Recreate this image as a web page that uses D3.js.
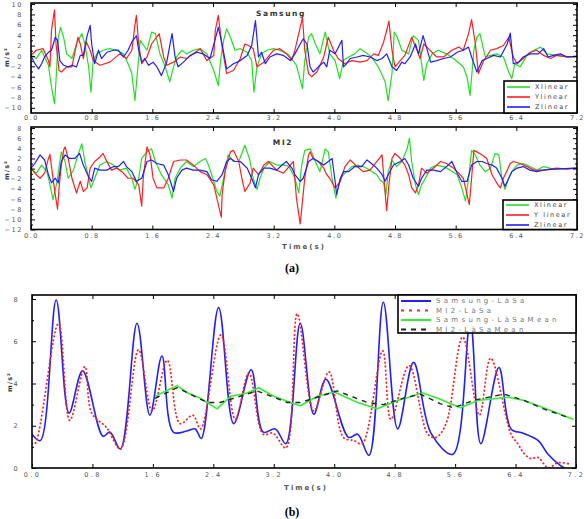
<!DOCTYPE html>
<html><head><meta charset="utf-8">
<script src="https://cdn.jsdelivr.net/npm/d3@7"></script>
<style>body{margin:0;background:#fff}svg{display:block}</style>
</head><body>
<svg id="c" width="584" height="519"></svg>
<script>
// ---------- data ----------
const timeTicks = [0, 0.8, 1.6, 2.4, 3.2, 4.0, 4.8, 5.6, 6.4, 7.2];
const samsungTicks = [-10, -8, -6, -4, -2, 0, 2, 4, 6, 8, 10];
const mi2Ticks = [-12, -10, -8, -6, -4, -2, 0, 2, 4, 6, 8];
const lasaTicks = [0, 2, 4, 6, 8];
const titles = ["Samsung", "MI2"];
const xLabel = "Time(s)";
const yLabel = "m/s²";
const panelTags = ["(a)", "(b)"];
const legendSamsung = ["Xlinear", "Ylinear", "Zlinear"];
const legendMi2 = ["Xlinear", "Y linear", "Zlinear"];
const legendLasa = ["Samsung-LàSa", "MI2-LàSa", "Samsung-LàSaMean", "MI2-LàSaMean"];

const samsungX = [[0,0.1],[0.07,-0.5],[0.14,1.1],[0.18,-0.2],[0.23,-1.8],[0.27,-6.0],[0.31,-9.2],[0.33,-4.7],[0.36,3.6],[0.39,5.5],[0.43,3.6],[0.47,0.4],[0.54,-0.5],[0.60,2.3],[0.67,4.3],[0.71,2.3],[0.76,-2.1],[0.79,-7.0],[0.82,-0.9],[0.87,0.4],[0.95,1.1],[1.04,1.4],[1.13,1.1],[1.22,0.4],[1.28,-1.5],[1.33,-3.4],[1.37,-8.6],[1.39,-5.4],[1.44,3.0],[1.53,1.1],[1.59,4.6],[1.64,4.3],[1.70,0.4],[1.77,-2.1],[1.83,-5.0],[1.88,-2.1],[1.92,-0.2],[1.99,1.1],[2.05,0.4],[2.14,1.1],[2.23,1.4],[2.32,0.4],[2.41,-2.8],[2.47,-5.7],[2.50,-0.9],[2.54,3.0],[2.58,5.2],[2.63,3.6],[2.69,1.1],[2.76,1.4],[2.85,0.7],[2.91,-0.9],[2.94,-7.0],[2.98,-2.1],[3.04,0.4],[3.11,1.1],[3.20,1.4],[3.28,1.1],[3.40,0.2],[3.50,-1.8],[3.58,-6.3],[3.61,-0.9],[3.66,3.6],[3.70,4.3],[3.75,2.3],[3.81,0.4],[3.88,4.6],[3.94,0.4],[4.01,-0.9],[4.07,-4.4],[4.12,-0.9],[4.19,-0.2],[4.27,0.4],[4.34,1.4],[4.41,0.7],[4.49,-0.2],[4.58,-2.1],[4.67,-5.0],[4.71,-8.6],[4.76,-3.4],[4.79,4.6],[4.83,3.6],[4.89,1.1],[4.98,0.4],[5.04,3.9],[5.11,3.0],[5.18,-4.7],[5.22,-1.5],[5.29,0.4],[5.37,1.1],[5.48,0.4],[5.57,-0.5],[5.70,-2.1],[5.75,-4.1],[5.79,-7.6],[5.84,1.1],[5.88,3.6],[5.92,4.3],[5.99,-0.2],[6.06,0.1],[6.14,0.4],[6.23,-0.2],[6.30,-3.1],[6.34,-4.4],[6.38,-1.5],[6.45,-2.1],[6.54,0.1],[6.63,1.1],[6.72,1.7],[6.80,0.4],[6.93,0.1],[7.07,-0.2],[7.2,-0.2]];
const samsungY = [[0,0.1],[0.07,1.1],[0.16,1.4],[0.23,-0.9],[0.25,-2.1],[0.27,4.9],[0.31,8.9],[0.33,2.3],[0.37,-2.8],[0.40,-3.1],[0.47,-2.1],[0.54,-2.1],[0.62,3.6],[0.65,2.3],[0.69,-0.5],[0.73,2.7],[0.78,1.1],[0.82,-0.9],[0.91,-1.8],[1.04,-1.2],[1.17,0.4],[1.26,-0.5],[1.33,1.1],[1.37,5.9],[1.39,7.8],[1.42,2.3],[1.46,-1.5],[1.53,-0.2],[1.59,2.3],[1.69,4.3],[1.75,-0.2],[1.79,-1.8],[1.88,-1.2],[1.97,-0.2],[2.05,-0.5],[2.14,0.4],[2.23,1.4],[2.32,-0.9],[2.41,0.1],[2.43,4.9],[2.47,7.8],[2.52,1.7],[2.58,-3.4],[2.67,-2.8],[2.76,-0.5],[2.82,2.3],[2.87,2.0],[2.93,1.4],[2.98,-2.1],[3.07,-1.2],[3.20,1.1],[3.28,1.4],[3.37,0.4],[3.44,-0.8],[3.48,1.1],[3.55,5.5],[3.58,7.5],[3.61,1.1],[3.66,-3.4],[3.70,-4.0],[3.77,-3.1],[3.86,-0.2],[3.92,3.6],[3.99,1.1],[4.05,-0.5],[4.14,-1.5],[4.23,-0.9],[4.34,-1.2],[4.43,-0.9],[4.52,0.4],[4.58,0.1],[4.65,2.7],[4.69,4.9],[4.72,6.7],[4.76,1.1],[4.80,-2.1],[4.87,-0.9],[4.93,0.1],[5.02,3.6],[5.09,1.1],[5.13,-0.5],[5.18,2.3],[5.24,1.4],[5.35,-0.2],[5.44,-0.2],[5.55,1.1],[5.64,1.7],[5.70,1.1],[5.77,4.3],[5.81,7.0],[5.86,2.3],[5.90,-3.4],[5.97,-0.9],[6.06,1.1],[6.14,1.4],[6.23,2.0],[6.30,3.6],[6.36,-0.2],[6.41,-1.5],[6.49,-0.5],[6.58,0.7],[6.67,1.1],[6.76,0.1],[6.85,-0.5],[6.93,0.1],[7.07,-0.2],[7.2,-0.1]];
const samsungZ = [[0,0.1],[0.05,-1.5],[0.10,-2.5],[0.14,-1.5],[0.18,-0.2],[0.23,0.7],[0.27,1.1],[0.32,3.6],[0.35,3.0],[0.38,-0.9],[0.43,-1.8],[0.49,-2.1],[0.54,-1.8],[0.60,-2.1],[0.65,0.1],[0.69,0.1],[0.74,3.9],[0.78,5.9],[0.80,2.3],[0.84,-1.5],[0.89,1.1],[0.93,-0.5],[1.00,0.7],[1.09,1.1],[1.15,1.1],[1.22,-0.2],[1.28,1.1],[1.33,2.7],[1.39,3.9],[1.42,1.1],[1.46,-1.2],[1.50,-0.5],[1.55,-1.8],[1.61,-1.2],[1.66,-2.1],[1.72,-3.8],[1.79,-1.2],[1.81,0.4],[1.86,4.3],[1.90,-0.2],[1.94,-2.1],[2.01,-1.2],[2.10,0.1],[2.19,0.7],[2.27,0.4],[2.36,-0.5],[2.43,3.3],[2.47,5.5],[2.52,2.3],[2.58,-2.5],[2.67,-1.5],[2.76,-0.9],[2.85,0.1],[2.91,2.0],[2.96,6.8],[3.00,-0.2],[3.04,0.7],[3.09,-1.5],[3.15,-0.2],[3.24,0.4],[3.33,0.1],[3.42,-0.9],[3.48,0.4],[3.55,2.3],[3.59,3.3],[3.64,2.3],[3.68,-2.1],[3.72,-3.1],[3.79,-2.1],[3.86,-1.2],[3.90,-2.1],[3.94,1.1],[4.01,0.4],[4.10,3.0],[4.12,-2.1],[4.16,-1.5],[4.21,-0.5],[4.30,-0.2],[4.38,0.1],[4.47,-0.2],[4.56,-0.9],[4.63,-0.5],[4.69,0.4],[4.76,-2.1],[4.82,-2.8],[4.89,-1.2],[4.93,-1.5],[5.00,-0.2],[5.07,2.3],[5.11,0.4],[5.17,3.9],[5.22,1.4],[5.27,-1.2],[5.35,-0.9],[5.44,-0.5],[5.53,-0.2],[5.62,0.7],[5.70,1.1],[5.77,1.7],[5.81,-0.2],[5.88,-3.1],[5.95,-0.9],[6.01,-0.5],[6.10,0.1],[6.19,-0.2],[6.28,2.3],[6.32,4.4],[6.36,-1.5],[6.43,-1.2],[6.49,-0.2],[6.58,0.4],[6.69,0.4],[6.76,1.4],[6.82,-0.2],[6.89,0.1],[6.98,0.4],[7.07,-0.2],[7.2,-0.1]];

const mi2X = [[0,0.1],[0.07,-0.9],[0.14,0.7],[0.21,-0.6],[0.25,-3.2],[0.29,-6.1],[0.34,-2.8],[0.38,1.4],[0.40,3.3],[0.45,1.4],[0.49,-1.9],[0.56,-0.3],[0.62,2.7],[0.67,4.9],[0.71,1.4],[0.76,-1.9],[0.79,-3.8],[0.84,-1.9],[0.91,0.7],[1.00,1.4],[1.09,0.7],[1.17,-0.3],[1.26,0.1],[1.33,-1.9],[1.37,-4.1],[1.42,-1.9],[1.46,2.0],[1.53,3.3],[1.59,3.9],[1.64,1.4],[1.72,-1.2],[1.81,-3.2],[1.86,-5.8],[1.90,-1.9],[1.97,0.1],[2.05,1.4],[2.14,0.4],[2.23,1.4],[2.30,2.0],[2.34,0.7],[2.41,-2.5],[2.45,-4.5],[2.49,-5.4],[2.54,-1.9],[2.60,2.7],[2.67,1.4],[2.74,1.4],[2.82,4.6],[2.88,2.0],[2.93,-1.9],[2.98,-4.1],[3.02,-1.9],[3.07,0.1],[3.15,1.4],[3.24,0.7],[3.33,0.7],[3.40,0.5],[3.48,-1.9],[3.53,-4.8],[3.57,0.7],[3.61,3.6],[3.68,3.9],[3.75,1.4],[3.81,-0.6],[3.88,3.9],[3.92,3.3],[3.97,-1.9],[4.02,-5.8],[4.08,-1.9],[4.14,-0.9],[4.23,0.4],[4.30,0.7],[4.38,0.4],[4.47,-0.3],[4.56,-1.2],[4.60,-2.2],[4.65,-2.8],[4.68,-5.1],[4.71,-0.6],[4.76,1.7],[4.82,0.4],[4.89,1.4],[4.96,3.9],[4.99,6.0],[5.02,1.4],[5.07,-3.2],[5.11,-5.1],[5.15,-3.2],[5.20,-1.9],[5.27,0.1],[5.35,0.7],[5.44,0.4],[5.53,-0.3],[5.62,-1.2],[5.68,-3.8],[5.73,-6.4],[5.77,-1.9],[5.81,3.6],[5.86,2.7],[5.92,0.7],[5.99,-0.6],[6.06,0.1],[6.12,3.0],[6.17,2.7],[6.21,-1.9],[6.25,-4.1],[6.30,-1.9],[6.34,-0.6],[6.41,0.7],[6.49,1.0],[6.58,0.4],[6.67,-0.3],[6.76,0.4],[6.89,-0.1],[7.2,0.1]];
const mi2Y = [[0,0.1],[0.05,-0.9],[0.12,-1.9],[0.18,-0.9],[0.23,2.0],[0.25,2.8],[0.29,-1.9],[0.32,-5.1],[0.35,-8.0],[0.37,-3.8],[0.40,0.7],[0.43,3.6],[0.45,4.3],[0.49,2.0],[0.54,-1.9],[0.60,-4.8],[0.65,-2.5],[0.69,-4.5],[0.74,-3.8],[0.78,0.1],[0.84,1.4],[0.91,2.3],[0.95,3.0],[1.00,1.4],[1.06,-0.3],[1.13,0.1],[1.20,-0.6],[1.28,-1.9],[1.35,-1.9],[1.42,-3.2],[1.46,-7.4],[1.48,-1.9],[1.53,4.3],[1.57,2.7],[1.61,-1.9],[1.66,-3.8],[1.75,-3.8],[1.81,-1.9],[1.88,1.4],[1.97,1.7],[2.05,1.7],[2.14,0.7],[2.23,-0.6],[2.32,-1.2],[2.41,-3.2],[2.51,-9.6],[2.52,-5.1],[2.56,-0.6],[2.63,3.3],[2.67,3.6],[2.74,1.4],[2.78,-1.9],[2.82,-4.5],[2.89,-2.8],[2.93,0.1],[3.00,-1.2],[3.07,0.7],[3.13,1.4],[3.24,-0.3],[3.33,-0.9],[3.42,0.7],[3.46,1.4],[3.50,-5.8],[3.55,-10.9],[3.58,-6.4],[3.61,-1.9],[3.66,2.7],[3.68,3.3],[3.72,2.0],[3.79,1.4],[3.86,0.1],[3.90,-1.2],[3.94,-1.9],[4.01,-3.8],[4.08,-2.5],[4.14,0.4],[4.21,1.7],[4.30,0.4],[4.38,-0.6],[4.47,-0.3],[4.56,1.4],[4.63,2.7],[4.65,-1.2],[4.69,-8.3],[4.72,-3.2],[4.76,2.0],[4.80,3.0],[4.87,2.0],[4.93,0.7],[4.98,-1.2],[5.02,-3.8],[5.07,-4.8],[5.11,-3.2],[5.15,0.1],[5.22,-0.9],[5.31,0.1],[5.40,1.4],[5.48,1.0],[5.57,0.1],[5.64,-0.9],[5.70,-1.9],[5.75,-5.1],[5.78,-7.1],[5.81,-1.9],[5.84,3.6],[5.88,3.3],[5.95,2.7],[6.01,2.0],[6.08,-1.2],[6.14,-2.8],[6.19,-3.8],[6.23,-1.9],[6.28,-0.3],[6.32,1.0],[6.36,1.4],[6.45,1.0],[6.54,0.4],[6.63,-0.3],[6.76,-0.3],[6.93,0.1],[7.07,-0.1],[7.2,0.1]];
const mi2Z = [[0,0.1],[0.05,1.0],[0.12,2.7],[0.18,1.7],[0.23,-1.2],[0.27,-2.8],[0.32,-1.9],[0.36,-2.8],[0.40,1.4],[0.45,2.7],[0.51,2.0],[0.58,2.0],[0.64,3.0],[0.69,0.7],[0.76,-1.6],[0.80,-2.5],[0.84,0.1],[0.91,-0.3],[1.00,-0.3],[1.09,0.4],[1.15,0.4],[1.22,1.4],[1.26,0.4],[1.33,-0.6],[1.39,-2.5],[1.46,-1.9],[1.53,1.4],[1.59,1.7],[1.66,1.0],[1.75,0.7],[1.81,-1.2],[1.88,-4.5],[1.92,-1.9],[1.99,-0.3],[2.05,0.1],[2.14,-0.3],[2.23,-0.3],[2.32,-0.6],[2.38,-2.2],[2.45,-2.5],[2.52,-1.2],[2.58,1.4],[2.63,2.0],[2.69,1.4],[2.76,1.4],[2.85,0.1],[2.91,-1.9],[2.96,-3.8],[3.00,-1.2],[3.07,0.1],[3.15,0.1],[3.24,-0.3],[3.31,0.7],[3.37,1.4],[3.44,0.1],[3.48,-1.2],[3.55,-2.5],[3.59,-1.9],[3.66,1.4],[3.72,2.0],[3.79,1.4],[3.86,0.7],[3.92,1.4],[3.97,2.0],[4.01,-2.5],[4.03,-5.1],[4.08,-1.9],[4.12,-0.6],[4.19,-0.6],[4.27,0.4],[4.36,0.4],[4.43,1.7],[4.49,1.0],[4.56,0.1],[4.63,-1.2],[4.67,-2.5],[4.71,-1.2],[4.78,0.7],[4.87,1.4],[4.93,2.0],[4.98,0.7],[5.04,-1.9],[5.11,-3.5],[5.15,-1.9],[5.22,-0.3],[5.31,-0.3],[5.40,-0.6],[5.48,0.4],[5.55,1.4],[5.62,-0.9],[5.68,-2.5],[5.75,-2.5],[5.81,0.7],[5.88,1.4],[5.95,1.4],[6.01,1.0],[6.08,0.7],[6.14,0.1],[6.21,-1.9],[6.25,-3.5],[6.30,-1.9],[6.34,-0.6],[6.41,0.1],[6.49,0.4],[6.58,-0.3],[6.67,-0.6],[6.76,-0.3],[6.89,-0.1],[7.2,0.1]];

const samsungLaSa = [[0.00,1.6],[0.11,1.3],[0.32,7.95],[0.49,2.6],[0.67,4.6],[0.94,1.5],[1.03,1.7],[1.17,0.9],[1.39,6.85],[1.56,2.5],[1.72,5.3],[1.87,1.7],[2.05,1.75],[2.16,1.85],[2.24,1.4],[2.47,7.6],[2.67,2.1],[2.90,4.65],[3.06,1.7],[3.22,1.85],[3.36,1.15],[3.55,6.85],[3.73,2.55],[3.89,4.2],[4.19,1.45],[4.31,1.6],[4.46,0.6],[4.65,7.85],[4.84,1.85],[5.05,5.0],[5.28,1.65],[5.57,0.65],[5.80,6.9],[5.94,1.15],[6.18,4.75],[6.34,1.85],[6.50,1.65],[6.70,1.3],[6.83,0.65],[7.00,0.1],[7.05,0.0]];
const mi2LaSa = [[0.00,1.15],[0.04,1.15],[0.35,6.85],[0.50,2.25],[0.70,4.8],[0.79,2.6],[0.99,1.9],[1.17,0.9],[1.41,5.6],[1.59,2.7],[1.79,5.1],[1.96,2.1],[2.13,2.5],[2.23,1.85],[2.50,6.3],[2.69,2.3],[2.87,4.5],[3.06,1.6],[3.19,1.65],[3.36,0.95],[3.51,7.3],[3.73,2.7],[3.93,4.55],[4.12,1.45],[4.26,1.3],[4.37,1.15],[4.64,5.55],[4.75,2.3],[4.99,4.85],[5.24,1.6],[5.35,1.45],[5.48,2.1],[5.70,6.2],[5.92,2.5],[6.07,5.2],[6.34,1.6],[6.43,1.15],[6.51,0.7],[6.60,0.45],[6.70,0.5],[6.83,0.0],[6.96,0.25],[7.10,0.2]];
const samsungLaSaMean = [[1.63,3.4],[1.92,3.9],[2.06,3.55],[2.23,3.3],[2.45,2.8],[2.63,3.4],[2.85,3.55],[3.00,3.8],[3.20,3.4],[3.42,3.1],[3.55,2.95],[3.78,3.4],[4.00,3.6],[4.31,3.1],[4.57,2.8],[4.84,3.2],[5.17,3.55],[5.37,3.3],[5.67,2.85],[5.90,3.2],[6.30,3.35],[6.51,3.2],[6.77,2.85],[7.17,2.3]];
const mi2LaSaMean = [[1.63,3.3],[1.92,3.8],[2.32,3.1],[2.49,3.1],[2.98,3.65],[3.38,3.1],[3.55,3.1],[3.82,3.4],[4.04,3.65],[4.44,3.1],[4.65,3.0],[4.91,3.3],[5.14,3.5],[5.40,3.05],[5.58,2.85],[5.84,3.2],[6.25,3.5],[6.51,3.2],[6.77,2.8],[7.13,2.35]];

// ---------- drawing ----------
const svg = d3.select("#c");
const FONT = "DejaVu Sans, sans-serif";
const GREEN = "#22e022", RED = "#ff1f1f", BLUE = "#1f1fff";
const mids = t => t.slice(0, -1).map((v, i) => (v + t[i + 1]) / 2);

function panel(c) {
  const x = d3.scaleLinear().domain([0, 7.2]).range([c.l, c.r]);
  const y = d3.scaleLinear().domain(c.yd).range([c.b, c.t]);
  const g = svg.append("g");
  const cid = "clip" + c.id;
  svg.append("clipPath").attr("id", cid).append("rect")
    .attr("x", c.l).attr("y", c.t).attr("width", c.r - c.l).attr("height", c.b - c.t);
  c.series.forEach(s => {
    g.append("path").datum(s.data).attr("clip-path", `url(#${cid})`)
      .attr("fill", "none").attr("stroke", s.color).attr("stroke-width", s.w)
      .attr("stroke-linejoin", "round").attr("stroke-linecap", s.cap || "butt")
      .attr("stroke-dasharray", s.dash || null)
      .attr("d", d3.line().x(d => x(d[0])).y(d => y(d[1])).curve(s.curve || d3.curveLinear));
  });
  const ax = (gen, tx, ty) => {
    const a = g.append("g").attr("transform", `translate(${tx},${ty})`).call(gen);
    a.select(".domain").remove();
    a.selectAll("line").attr("stroke", "#000").attr("stroke-width", 1);
    a.selectAll("text").attr("font-family", FONT).attr("font-size", c.fs)
      .attr("fill", "#555").attr("letter-spacing", c.ls);
    return a;
  };
  ax(d3.axisBottom(x).tickValues(timeTicks).tickSize(-4).tickPadding(c.xpad).tickFormat(d3.format(".1f")), 0, c.b);
  ax(d3.axisTop(x).tickValues(timeTicks).tickSize(-4).tickFormat(""), 0, c.t);
  ax(d3.axisLeft(y).tickValues(c.yt).tickSize(-4).tickPadding(c.ypad).tickFormat(d3.format("d")), c.l, 0);
  ax(d3.axisLeft(y).tickValues(mids(c.yt)).tickSize(-2).tickFormat(""), c.l, 0);
  ax(d3.axisRight(y).tickValues(c.yt).tickSize(-4).tickFormat(""), c.r, 0);
  ax(d3.axisRight(y).tickValues(mids(c.yt)).tickSize(-2).tickFormat(""), c.r, 0);
  g.append("rect").attr("x", c.l).attr("y", c.t).attr("width", c.r - c.l).attr("height", c.b - c.t)
    .attr("fill", "none").attr("stroke", "#000").attr("stroke-width", 1.6);
  // y label
  g.append("text").attr("transform", `translate(${c.yl[0]},${c.yl[1]}) rotate(-90)`)
    .attr("text-anchor", "middle").attr("font-family", FONT).attr("font-size", 6.5)
    .attr("font-weight", "bold").attr("fill", "#333").attr("letter-spacing", 1).text(yLabel);
  // legend
  const L = c.legend;
  const lg = g.append("g");
  lg.append("rect").attr("x", L.x).attr("y", L.y).attr("width", c.r - L.x).attr("height", L.h)
    .attr("fill", "#fff").attr("stroke", "#000").attr("stroke-width", 1.6);
  L.names.forEach((n, i) => {
    const s = c.series[i], yy = L.y + L.y0 + i * L.dy;
    lg.append("line").attr("x1", L.x + 3).attr("x2", L.x + L.lw).attr("y1", yy).attr("y2", yy)
      .attr("stroke", s.color).attr("stroke-width", s.w + 0.4).attr("stroke-dasharray", s.ldash || s.dash || null);
    lg.append("text").attr("x", L.x + L.lw + 5).attr("y", yy).attr("dy", "0.35em")
      .attr("font-family", FONT).attr("font-size", L.fs).attr("fill", L.color)
      .attr("letter-spacing", L.ls).text(n);
  });
  if (c.title) {
    g.append("text").attr("x", c.title[1]).attr("y", c.title[2]).attr("text-anchor", "middle")
      .attr("font-family", FONT).attr("font-size", 7.5).attr("font-weight", "bold")
      .attr("fill", "#333").attr("letter-spacing", 1.6).text(c.title[0]);
  }
  if (c.xl) {
    g.append("text").attr("x", c.xl[0]).attr("y", c.xl[1]).attr("text-anchor", "middle")
      .attr("font-family", FONT).attr("font-size", 7).attr("font-weight", "bold")
      .attr("fill", "#555").attr("letter-spacing", 2).text(xLabel);
  }
}

panel({
  id: 1, l: 31, r: 577, t: 3, b: 113, yd: [-11, 10.2], yt: samsungTicks,
  xpad: 2, ypad: 8, fs: 6.5, ls: 1.6, yl: [9, 57], title: [titles[0], 281, 16],
  series: [
    { data: samsungX, color: GREEN, w: 1.2 },
    { data: samsungY, color: RED, w: 1.2 },
    { data: samsungZ, color: BLUE, w: 1.2 }],
  legend: { x: 504, y: 81, h: 32, y0: 6, dy: 10, lw: 26, names: legendSamsung, fs: 6.5, ls: 1.6, color: "#444" }
});

panel({
  id: 2, l: 31, r: 577, t: 127, b: 229.5, yd: [-12, 8.2], yt: mi2Ticks,
  xpad: 4, ypad: 8, fs: 6.5, ls: 1.6, yl: [9, 170], title: [titles[1], 283, 145],
  xl: [304, 249],
  series: [
    { data: mi2X, color: GREEN, w: 1.2 },
    { data: mi2Y, color: RED, w: 1.2 },
    { data: mi2Z, color: BLUE, w: 1.2 }],
  legend: { x: 503, y: 200, h: 29.5, y0: 5, dy: 10, lw: 26, names: legendMi2, fs: 6.5, ls: 1.6, color: "#444" }
});

panel({
  id: 3, l: 32, r: 576, t: 295, b: 468, yd: [0, 8.19], yt: lasaTicks,
  xpad: 4, ypad: 12, fs: 6.5, ls: 2.4, yl: [12, 382], xl: [306, 490],
  series: [
    { data: samsungLaSa, color: BLUE, w: 1.6, curve: d3.curveCatmullRom.alpha(0.5) },
    { data: mi2LaSa, color: RED, w: 1.8, dash: "0.5,3.5", cap: "round", ldash: "3,5", curve: d3.curveCatmullRom.alpha(0.5) },
    { data: samsungLaSaMean, color: "#33ee33", w: 1.6 },
    { data: mi2LaSaMean, color: "#222", w: 1.4, dash: "5,5" }],
  legend: { x: 398, y: 295, h: 38, y0: 6, dy: 9.5, lw: 33, names: legendLasa, fs: 7, ls: 3.3, color: "#777" }
});

// panel tags
[[panelTags[0], 292, 272], [panelTags[1], 292, 516]].forEach(([t, x, y]) => {
  svg.append("text").attr("x", x).attr("y", y).attr("text-anchor", "middle")
    .attr("font-family", "Liberation Serif, serif").attr("font-weight", "bold")
    .attr("font-size", 12).attr("fill", "#000").text(t);
});
</script>
</body></html>
